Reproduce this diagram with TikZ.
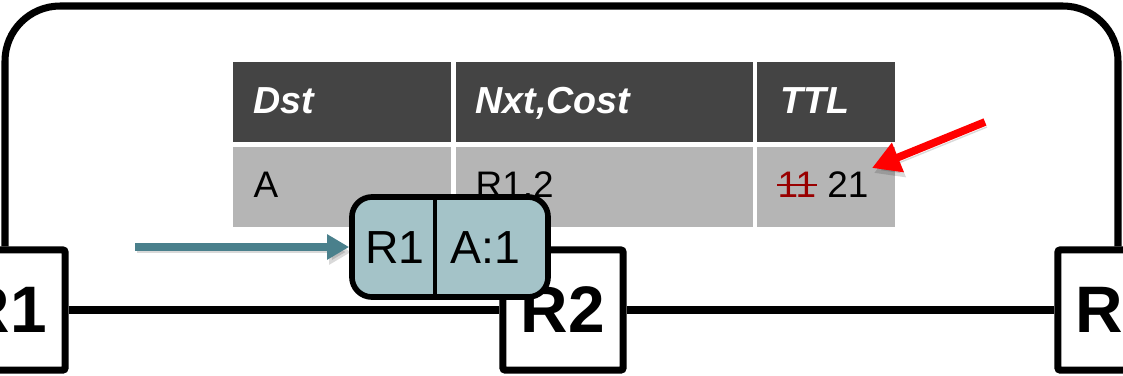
\documentclass[tikz,border=0pt]{standalone}
\usepackage{fontspec}
\setmainfont{Liberation Sans}
\usetikzlibrary{arrows.meta}
\definecolor{grigioscuro}{HTML}{444444}
\definecolor{grigiochiaro}{HTML}{B5B5B5}
\definecolor{verdeacqua}{HTML}{4A808C}
\definecolor{fondopacchetto}{HTML}{A4C3C8}
\definecolor{rossoscuro}{HTML}{990000}
\definecolor{rossovivo}{HTML}{FF0000}

\begin{document}
\begin{tikzpicture}[x=0.01cm, y=-0.01cm,
			router/.style={draw=black, fill=white, line width=2pt, rounded corners=0.6pt, minimum width=1.2cm, minimum height=1.2cm, inner sep=0pt, font=\fontsize{18.7}{22}\selectfont\bfseries},
			linea/.style={line width=2pt, black},
			cornice/.style={line width=2pt, black, rounded corners=0.55cm},
			testata/.style={fill=grigioscuro},
			riga/.style={fill=grigiochiaro},
			intest/.style={anchor=base west, inner sep=0pt, text=white, font=\fontsize{10.7}{12}\selectfont\bfseries\itshape},
			voce/.style={anchor=base west, inner sep=0pt, font=\fontsize{10.5}{12}\selectfont},
			pacchetto/.style={draw=black, fill=fondopacchetto, line width=1.6pt, rounded corners=0.2cm, minimum width=1.96cm, minimum height=1.0cm, inner sep=0pt},
			campo/.style={anchor=base, inner sep=0pt, font=\fontsize{13.2}{15}\selectfont},
			ombra/.style={preaction={draw=black, opacity=0.15, transform canvas={shift={(0.02cm,-0.05cm)}}}},
			freccia/.style={ombra, line width=2.3pt, verdeacqua, -{Triangle[length=0.22cm, width=0.24cm]}},
			frecciarossa/.style={ombra, line width=2.2pt, rossovivo, -{Triangle[length=0.28cm, width=0.30cm]}},
			]
			
			\useasboundingbox (0,0) rectangle (1123,375);
			\clip (0,0) rectangle (1123,375);
			
			%% =========================================================
			%% ROUTER E COLLEGAMENTI
			%% =========================================================
			\node[router] (r1) at (5,310) {R1};
			\node[router] (r2) at (563,310) {R2};
			\node[router] (r3) at (1118,310) {R3};
			\coordinate (cima) at (560,6);
			%% anello superiore
			\draw[cornice] (r1.north) |- (cima) -| (r3.north);
			%% linea orizzontale
			\draw[linea] (r1) -- (r2);
			\draw[linea] (r2) -- (r3);
			
			%% =========================================================
			%% TABELLA DI INSTRADAMENTO
			%% =========================================================
			\foreach \xa/\xb in {233/451, 456/753, 757/895}{
				\fill[testata] (\xa,62) rectangle (\xb,142);
				\fill[riga] (\xa,147) rectangle (\xb,227);}
			%% intestazioni
			\node[intest] (hdst) at (253,113) {Dst};
			\node[intest] (hnxt) at (475,113) {Nxt,Cost};
			\node[intest] (httl) at (780,113) {TTL};
			%% voci
			\node[voce] (vdst) at (253,197) {A};
			\node[voce] (vnxt) at (475,197) {R1,2};
			\node[voce, text=rossoscuro] (vecchio) at (777,197) {11};
			\node[voce, anchor=base west] (vttl) at ([xshift=0.1cm]vecchio.base east) {21};
			%% TTL barrato
			\draw[rossoscuro, line width=0.7pt] ([yshift=0.12cm]vecchio.base west) -- ([yshift=0.12cm]vecchio.base east);
			
			%% freccia rossa sul TTL
			\coordinate (codarossa) at (985,122);
			\coordinate (puntarossa) at (872,168);
			\draw[frecciarossa] (codarossa) -- (puntarossa);
			
			%% =========================================================
			%% PACCHETTO IN ARRIVO
			%% =========================================================
			\node[pacchetto] (pkt) at (450,247) {};
			\coordinate (divisore) at (435,247);
			\draw[line width=1.3pt] (pkt.north -| divisore) -- (pkt.south -| divisore);
			\node[campo] (fmit) at (395,263) {R1};
			\node[campo] (fdst) at (485,263) {A:1};
			\coordinate (codaverde) at (135,247);
			\draw[freccia] (codaverde) -- (pkt.west);
			
\end{tikzpicture}
\end{document}
